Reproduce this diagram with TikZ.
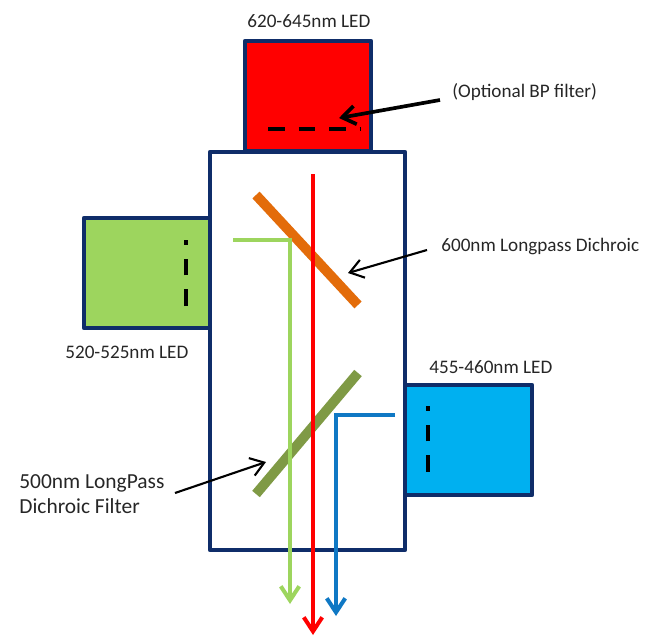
\documentclass[tikz,border=0pt]{standalone}
\usepackage{fontspec}
\setmainfont{Carlito}
\usetikzlibrary{arrows.meta}
\definecolor{framecolor}{HTML}{0F2D69}
\definecolor{redled}{HTML}{FF0000}
\definecolor{greenled}{HTML}{9DD55E}
\definecolor{blueled}{HTML}{00B0F0}
\definecolor{blueray}{HTML}{0F78C4}
\definecolor{orangemirror}{HTML}{E36C0A}
\definecolor{olivemirror}{HTML}{7F9A45}
\definecolor{labelcolor}{HTML}{262626}

\begin{document}
\begin{tikzpicture}[x=0.02cm, y=-0.02cm,
  housing/.style={draw=framecolor, line width=2.5pt, line join=round},
  ray/.style={line width=2.3pt, line join=miter},
  rayhead/.style={-{Straight Barb[length=8pt, width=10.5pt, line width=2.3pt]}},
  filter/.style={black, line width=2.5pt, dash pattern=on 9.4pt off 8pt},
  mirror/.style={line width=5.6pt},
  tag/.style={font=\fontsize{10.9pt}{13pt}\selectfont, text=labelcolor, inner sep=0pt, anchor=west},
  pointer/.style={black, -{Straight Barb[length=7.5pt, width=10.5pt]}}
]
  \useasboundingbox (0,0) rectangle (645,635);

  % LED housings and the cube
  \draw[housing, fill=redled] (245,41) rectangle (371,151);
  \draw[housing, fill=greenled] (84,218) rectangle (210,328);
  \draw[housing, fill=blueled] (405,385) rectangle (532,495);
  \draw[housing, fill=white] (210,152) rectangle (405,550);

  % optional filters
  \draw[filter] (268,129) -- (360,129);
  \draw[filter] (186,306) -- (186,240);
  \draw[filter] (428,472) -- (428,406);

  % dichroics
  \draw[orangemirror, mirror] (256,195) -- (358,305);
  \draw[olivemirror, mirror] (256,494) -- (358,373);

  % beams
  \coordinate (greenstart) at (233,240);
  \coordinate (greenbend) at (290,240);
  \coordinate (greenend) at (290,604);
  \coordinate (bluestart) at (395,415);
  \coordinate (bluebend) at (336,415);
  \coordinate (blueend) at (336,616);
  \coordinate (redstart) at (313,174);
  \coordinate (redend) at (313,635);
  \draw[greenled, ray, rayhead] (greenstart) -- (greenbend) -- (greenend);
  \draw[blueray, ray, rayhead] (bluestart) -- (bluebend) -- (blueend);
  \draw[redled, ray, rayhead] (redstart) -- (redend);

  % labels
  \node[tag] (redlabel) at (247,21) {620-645nm LED};
  \node[tag] (greenlabel) at (65,352) {520-525nm LED};
  \node[tag] (bluelabel) at (429,367) {455-460nm LED};
  \node[tag] (bplabel) at (452,92) {(Optional BP filter)};
  \node[tag] (longlabel) at (441,246) {600nm Longpass Dichroic};
  \node[tag, align=left, font=\fontsize{12.2pt}{14.2pt}\selectfont] (shortlabel) at (19,494) {500nm LongPass\\Dichroic Filter};

  % pointers
  \coordinate (bptail) at (440,100);
  \coordinate (bptip) at (339,118);
  \coordinate (longtail) at (427,250);
  \coordinate (longtip) at (348,273);
  \coordinate (shorttail) at (175,493);
  \coordinate (shorttip) at (266,462);
  \draw[pointer, line width=2.1pt] (bptail) -- (bptip);
  \draw[pointer, line width=1.2pt] (longtail) -- (longtip);
  \draw[pointer, line width=1.2pt] (shorttail) -- (shorttip);
\end{tikzpicture}
\end{document}
